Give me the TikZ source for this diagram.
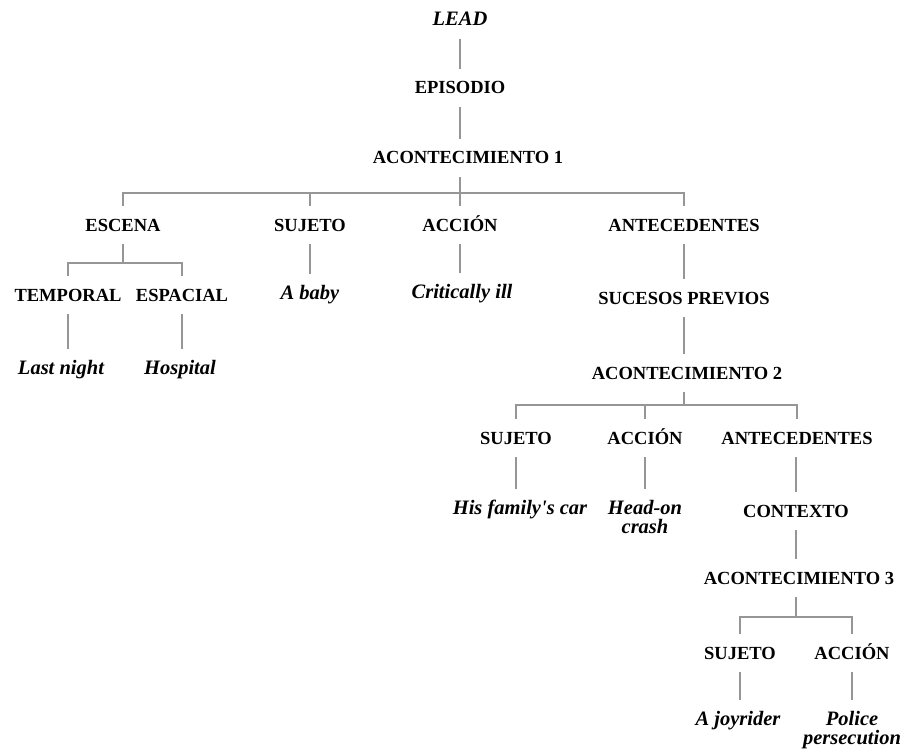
\documentclass[tikz,border=0pt]{standalone}
\usepackage{fontspec}
\setmainfont{Liberation Serif}[Ligatures=TeXOff]
\definecolor{linkgray}{RGB}{150,150,150}
\begin{document}
\begin{tikzpicture}[x=1pt,y=-1pt,
  lab/.style={font=\fontsize{18.5}{19}\selectfont\bfseries,
    text height=25pt, text depth=13pt, inner ysep=0pt, inner xsep=2pt},
  ex/.style={font=\fontsize{20.5}{19}\selectfont\bfseries\itshape,
    text height=25pt, text depth=13pt, inner ysep=0pt, inner xsep=2pt},
  link/.style={draw=linkgray, line width=1.5pt}]
\useasboundingbox (0,0) rectangle (905,749);

% trunk
\node[ex]  (lead) at (460,20)  {LEAD};
\node[lab] (epi)  at (460,88)  {EPISODIO};
\node[lab] (ac1)  at (468,158) {ACONTECIMIENTO 1};

% first event
\node[lab] (esc)  at (123,225) {ESCENA};
\node[lab] (suj1) at (310,225) {SUJETO};
\node[lab] (acc1) at (460,225) {ACCIÓN};
\node[lab] (ant1) at (684,225) {ANTECEDENTES};

\node[lab] (temp) at (68,295)  {TEMPORAL};
\node[lab] (espa) at (182,295) {ESPACIAL};
\node[ex]  (baby) at (310,293) {A baby};
\node[ex]  (crit) at (462,292) {Critically ill};
\node[ex]  (last) at (61,368)  {Last night};
\node[ex]  (hosp) at (180,368) {Hospital};

\node[lab] (suc)  at (684,298) {SUCESOS PREVIOS};
\node[lab] (ac2)  at (687,373) {ACONTECIMIENTO 2};

% second event
\node[lab] (suj2) at (516,438) {SUJETO};
\node[lab] (acc2) at (645,438) {ACCIÓN};
\node[lab] (ant2) at (797,438) {ANTECEDENTES};
\node[ex]  (fam)  at (520,508) {His family's car};
\node[ex]  (head) at (645,508) {\begin{tabular}[t]{@{}c@{}}Head-on\\crash\end{tabular}};
\node[lab] (ctx)  at (796,511) {CONTEXTO};
\node[lab] (ac3)  at (799,578) {ACONTECIMIENTO 3};

% third event
\node[lab] (suj3) at (740,653) {SUJETO};
\node[lab] (acc3) at (852,653) {ACCIÓN};
\node[ex]  (joy)  at (738,719) {A joyrider};
\node[ex]  (pol)  at (852,719) {\begin{tabular}[t]{@{}c@{}}Police\\persecution\end{tabular}};

% branch junctions
\coordinate (j1) at (460,193);
\coordinate (j2) at (123,263);
\coordinate (j3) at (684,405);
\coordinate (j4) at (796,617);

% connectors
\draw[link] (lead.south) -- (epi.north);
\draw[link] (epi.south) -- (epi.south |- ac1.north);
\draw[link] (epi.south |- ac1.south) -- (j1);
\draw[link] (esc.north) |- (j1) -| (ant1.north);
\draw[link] (suj1.north) -- (suj1.north |- j1);
\draw[link] (acc1.north) -- (acc1.north |- j1);

\draw[link] (esc.south) -- (j2);
\draw[link] (temp.north) |- (j2) -| (espa.north);
\draw[link] (temp.south) -- (temp.south |- last.north);
\draw[link] (espa.south) -- (espa.south |- hosp.north);
\draw[link] (suj1.south) -- (suj1.south |- baby.north);
\draw[link] (acc1.south) -- (acc1.south |- crit.north);

\draw[link] (ant1.south) -- (ant1.south |- suc.north);
\draw[link] (suc.south) -- (suc.south |- ac2.north);
\draw[link] (suc.south |- ac2.south) -- (j3);
\draw[link] (suj2.north) |- (j3) -| (ant2.north);
\draw[link] (acc2.north) -- (acc2.north |- j3);

\draw[link] (suj2.south) -- (suj2.south |- fam.north);
\draw[link] (acc2.south) -- (acc2.south |- head.north);
\draw[link] (ctx.north |- ant2.south) -- (ctx.north);
\draw[link] (ctx.south) -- (ctx.south |- ac3.north);
\draw[link] (ctx.south |- ac3.south) -- (j4);
\draw[link] (suj3.north) |- (j4) -| (acc3.north);
\draw[link] (suj3.south) -- (suj3.south |- joy.north);
\draw[link] (acc3.south) -- (acc3.south |- pol.north);
\end{tikzpicture}
\end{document}
